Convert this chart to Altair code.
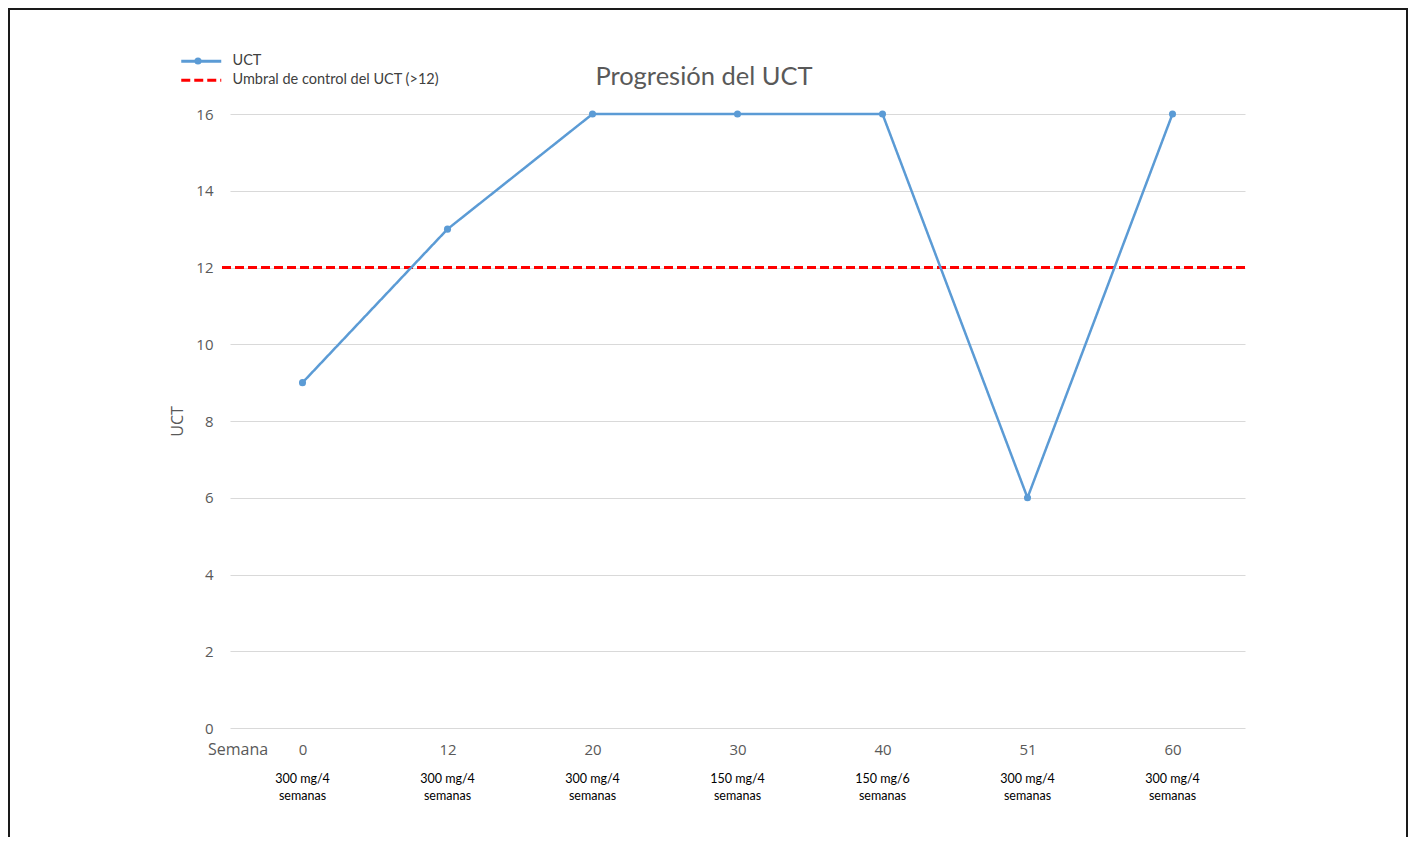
import altair as alt
import pandas as pd

weeks = ["0", "12", "20", "30", "40", "51", "60"]
uct = [9, 13, 16, 16, 16, 6, 16]
doses = ["300 mg/4\nsemanas", "300 mg/4\nsemanas", "300 mg/4\nsemanas",
         "150 mg/4\nsemanas", "150 mg/6\nsemanas", "300 mg/4\nsemanas",
         "300 mg/4\nsemanas"]
threshold = [12]
series = ["UCT", "Umbral de control del UCT (>12)"]
title_text = ["Progresión del UCT"]

W, H = 1015, 614

df = pd.DataFrame({"semana": weeks, "uct": uct, "dosis": doses, "serie": series[0]})
df_thr = pd.DataFrame({"umbral": threshold, "serie": [series[1]]})
df_one = pd.DataFrame({"k": [0]})
df_sem = pd.DataFrame({"t": ["Semana"]})
df_title = pd.DataFrame({"t": title_text})

xscale = alt.Scale(type="point", padding=0.5, domain=weeks)
color_scale = alt.Scale(domain=series, range=["#5B9BD5", "#FF0000"])
dash_scale = alt.Scale(domain=series, range=[[1, 0], [9, 4]])

legend = alt.Legend(
    title=None, orient="none", legendX=-36, legendY=-60,
    symbolType="M-5,0H5", symbolSize=64, symbolStrokeWidth=3,
    labelFont="Lato", labelFontSize=14.5, labelColor="#404040",
    rowPadding=4, labelOffset=24, labelLimit=500,
)

base = alt.Chart(df)

line = base.mark_line(strokeWidth=2.5).encode(
    x=alt.X("semana:N", scale=xscale, sort=weeks,
            axis=alt.Axis(title=None, labelAngle=0, ticks=False, domain=False,
                          labelPadding=14, labelFont="Open Sans", labelFontSize=15,
                          labelColor="#595959")),
    y=alt.Y("uct:Q", scale=alt.Scale(domain=[0, 16], nice=False),
            axis=alt.Axis(title="UCT", values=list(range(0, 17, 2)), ticks=False,
                          domain=False, labelPadding=17, labelFont="Open Sans",
                          labelFontSize=15, labelColor="#595959",
                          gridColor="#D9D9D9", gridWidth=1,
                          titleFont="Open Sans", titleFontSize=16, titleFontWeight="normal",
                          titleColor="#595959", titleX=-45, titleY=H / 2,
                          titleAngle=270, titleAlign="center", titleBaseline="bottom")),
    color=alt.Color("serie:N", scale=color_scale, legend=legend),
    strokeDash=alt.StrokeDash("serie:N", scale=dash_scale, legend=legend),
)

points = base.mark_circle(size=50, opacity=1, color="#5B9BD5").encode(
    x=alt.X("semana:N", scale=xscale, sort=weeks),
    y=alt.Y("uct:Q"),
)

rule = alt.Chart(df_thr).mark_rule(strokeWidth=3).encode(
    y=alt.Y("umbral:Q"),
    x=alt.value(-8), x2=alt.value(W + 3),
    color=alt.Color("serie:N", scale=color_scale, legend=legend),
    strokeDash=alt.StrokeDash("serie:N", scale=dash_scale, legend=legend),
)

dose_text = base.mark_text(font="Lato", fontSize=12.5, color="#000000",
                           lineBreak="\n", lineHeight=17, baseline="middle").encode(
    x=alt.X("semana:N", scale=xscale, sort=weeks),
    y=alt.value(665),
    text="dosis:N",
)

sem_text = alt.Chart(df_sem).mark_text(font="Open Sans", fontSize=16, color="#595959",
                                       baseline="middle").encode(
    x=alt.value(8), y=alt.value(636), text="t:N")

title = alt.Chart(df_title).mark_text(font="Lato", fontSize=25.5, color="#595959",
                                      baseline="middle", align="center").encode(
    x=alt.value(474), y=alt.value(-37), text="t:N")

legend_dot = alt.Chart(df_one).mark_circle(size=50, opacity=1, color="#5B9BD5").encode(
    x=alt.value(-32), y=alt.value(-53))

frame = alt.Chart(df_one).mark_rect(filled=False, stroke="#1a1a1a", strokeWidth=2).encode(
    x=alt.value(-221), x2=alt.value(W + 162), y=alt.value(-105), y2=alt.value(H + 200))

chart = alt.layer(frame, rule, line, points, dose_text, sem_text, title, legend_dot).properties(
    width=W, height=H,
    padding={"left": 222, "top": 106, "right": 163, "bottom": 109},
    autosize=alt.AutoSizeParams(type="none"),
).configure(background="white").configure_view(strokeWidth=0, stroke=None)

chart.save("out.html", embed_options={"renderer": "svg", "actions": False})
